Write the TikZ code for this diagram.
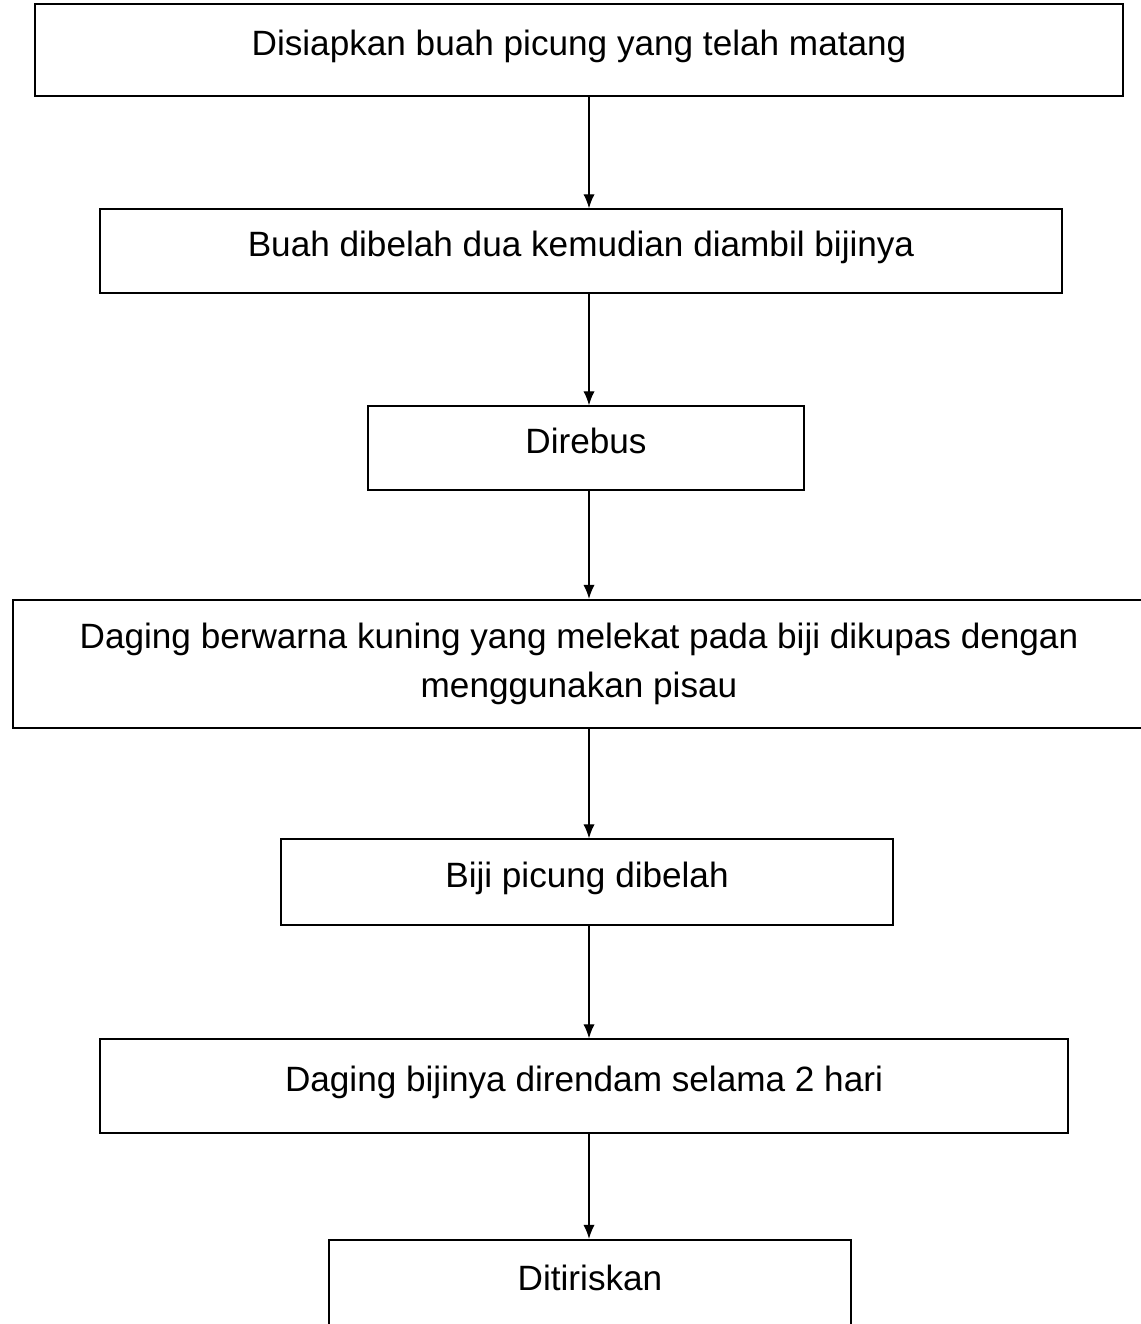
\documentclass[tikz,border=0pt]{standalone}
\usepackage{fontspec}
\setmainfont{Liberation Sans}
\usetikzlibrary{arrows.meta}

\tikzset{
	stepbox/.style={draw, line width=1.5pt, rectangle, align=center, inner sep=0pt,
		font=\fontsize{25}{35}\selectfont, text height=18pt, text depth=10pt},
	widebox/.style={draw, line width=1.5pt, rectangle, align=center, inner sep=0pt,
		font=\fontsize{25}{35}\selectfont},
	flow/.style={-{Latex[length=10pt,width=8pt]}, line width=1pt}
}

\begin{document}
\begin{tikzpicture}[x=0.025cm,y=-0.025cm]
		\clip (0,0) rectangle (1141,1324); % page frame, cuts the last boxes
		\coordinate (ax) at (589,0);
		\node[stepbox, minimum width=27.2cm, minimum height=2.28cm] (siap) at (579,50) {Disiapkan buah picung yang telah matang};
		\node[stepbox, minimum width=24.05cm, minimum height=2.08cm] (belah) at (581,251) {Buah dibelah dua kemudian diambil bijinya};
		\node[stepbox, minimum width=10.9cm, minimum height=2.08cm] (rebus) at (586,448) {Direbus};
		\node[widebox, minimum width=28.3cm, minimum height=3.2cm] (kupas) at (579,664) {Daging berwarna kuning yang melekat pada biji dikupas dengan\\ menggunakan pisau};
		\node[stepbox, minimum width=15.3cm, minimum height=2.13cm] (biji) at (587,882) {Biji picung dibelah};
		\node[stepbox, minimum width=24.2cm, minimum height=2.33cm] (rendam) at (584,1086) {Daging bijinya direndam selama 2 hari};
		\node[stepbox, minimum width=13.05cm, minimum height=2.25cm] (tiris) at (590,1285) {Ditiriskan};
		\foreach \a/\b in {siap/belah, belah/rebus, rebus/kupas, kupas/biji, biji/rendam, rendam/tiris} % arrows down
		\draw[flow] (\a.south -| ax) -- (\b.north -| ax);
\end{tikzpicture}
\end{document}
